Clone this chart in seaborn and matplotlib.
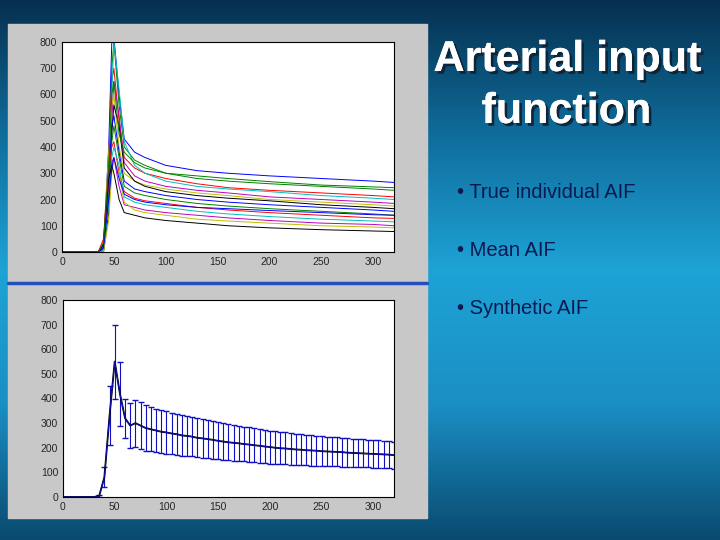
import numpy as np
import matplotlib
matplotlib.use("Agg")
import matplotlib.pyplot as plt
import matplotlib.patheffects as pe
import seaborn as sns
from matplotlib.colors import LinearSegmentedColormap

sns.set_style("white")
plt.rcParams['font.family'] = ['Liberation Sans', 'DejaVu Sans']

# individual AIF curves (sampled times)
t_ind = [0, 35, 40, 45, 48, 50, 55, 60, 70, 80, 100, 130, 160, 200, 250, 300, 320]
curves = [
    [0, 0, 20, 400, 800, 820, 600, 430, 380, 360, 330, 310, 300, 290, 280, 270, 265],
    [0, 0, 10, 300, 700, 800, 560, 400, 350, 330, 300, 280, 270, 260, 250, 240, 235],
    [0, 0, 30, 350, 650, 700, 500, 360, 320, 300, 280, 260, 245, 235, 225, 215, 210],
    [0, 0, 5, 250, 600, 800, 620, 420, 330, 300, 270, 250, 240, 230, 215, 205, 200],
    [0, 0, 15, 200, 500, 650, 520, 340, 290, 270, 250, 235, 225, 210, 200, 190, 185],
    [0, 0, 40, 380, 560, 600, 400, 300, 270, 255, 240, 225, 215, 200, 190, 180, 175],
    [0, 0, 0, 150, 450, 560, 480, 320, 270, 250, 230, 215, 205, 195, 180, 170, 165],
    [0, 0, 25, 300, 480, 520, 380, 270, 240, 230, 215, 200, 190, 180, 170, 160, 155],
    [0, 0, 10, 220, 420, 480, 360, 250, 225, 215, 200, 185, 175, 165, 155, 145, 140],
    [0, 0, 50, 320, 400, 420, 300, 230, 205, 195, 185, 170, 160, 150, 140, 130, 128],
    [0, 0, 5, 180, 360, 400, 330, 210, 190, 180, 170, 155, 145, 135, 125, 118, 115],
    [0, 0, 20, 260, 340, 360, 250, 180, 170, 160, 150, 140, 130, 120, 110, 105, 100],
    [0, 0, 0, 120, 300, 350, 300, 190, 160, 150, 140, 125, 118, 110, 100, 95, 92],
    [0, 0, 30, 280, 330, 300, 200, 150, 140, 130, 120, 110, 100, 92, 85, 80, 78],
    [0, 0, 15, 200, 320, 360, 280, 220, 200, 190, 180, 170, 165, 158, 150, 142, 140],
    [0, 0, 35, 330, 600, 650, 450, 380, 340, 320, 300, 290, 280, 268, 255, 248, 245],
]
colors = ['b', 'g', 'r', 'c', 'm', 'y', 'k']

# mean AIF and SD (t = 0..320 step 5)
t_mean = list(range(0, 325, 5))
mean_aif = [0, 0, 0, 0, 0, 0, 0, 5, 80, 330, 550, 420, 320, 290, 300, 290, 280, 275, 270, 265,
            262, 258, 255, 250, 248, 245, 240, 238, 235, 232, 228, 225, 222, 220, 218, 215,
            213, 210, 208, 205, 203, 200, 198, 197, 195, 193, 192, 190, 189, 188, 186, 185,
            184, 183, 182, 180, 179, 178, 177, 176, 175, 174, 173, 172, 170]
sd_aif = [0, 0, 0, 0, 0, 0, 0, 5, 40, 120, 150, 130, 80, 90, 95, 95, 92, 90, 88, 87,
          86, 85, 84, 82, 81, 80, 79, 78, 77, 76, 75, 74, 73, 72, 71, 70,
          70, 69, 68, 67, 67, 66, 65, 65, 64, 63, 63, 62, 62, 61, 61, 60,
          60, 59, 59, 58, 58, 57, 57, 56, 56, 56, 55, 55, 55]

fig = plt.figure(figsize=(7.2, 5.4), dpi=100)
bg = fig.add_axes([0, 0, 1, 1])
cmap = LinearSegmentedColormap.from_list("bg", ["#06304f", "#0f6d9c", "#1ea3d6", "#1a8fc4", "#0a4a70"])
bg.imshow(np.linspace(0, 1, 256).reshape(-1, 1), aspect='auto', cmap=cmap, extent=[0, 1, 0, 1])
bg.set_xlim(0, 1); bg.set_ylim(0, 1); bg.axis('off')
bg.add_patch(plt.Rectangle((8/720, 1-518/540), 419/720, 494/540, color='#c8c8c8', zorder=2))
bg.plot([8/720, 427/720], [1-283/540]*2, color='#2050c0', lw=2.5, zorder=3)

ax1 = fig.add_axes([62/720, 1-252/540, 332/720, 210/540])
for i, c in enumerate(curves):
    sns.lineplot(x=t_ind, y=c, ax=ax1, color=colors[i % 7], lw=0.7)
ax1.set_xlim(0, 320); ax1.set_ylim(0, 800)
ax1.set_xticks(range(0, 301, 50)); ax1.set_yticks(range(0, 801, 100))

ax2 = fig.add_axes([63/720, 1-497/540, 331/720, 197/540])
ax2.errorbar(t_mean, mean_aif, yerr=sd_aif, color='#1010c0', lw=0.7, capsize=2.5, elinewidth=0.8)
sns.lineplot(x=t_mean, y=mean_aif, ax=ax2, color='k', lw=1.3)
ax2.set_xlim(0, 320); ax2.set_ylim(0, 800)
ax2.set_xticks(range(0, 301, 50)); ax2.set_yticks(range(0, 801, 100))

for ax in (ax1, ax2):
    ax.set_facecolor('white')
    ax.tick_params(labelsize=7.5, direction='in', length=3)
    for s in ax.spines.values():
        s.set_color('black'); s.set_linewidth(0.8)

shadow = [pe.withSimplePatchShadow(offset=(2, -2), shadow_rgbFace='#102030', alpha=0.9), pe.Normal()]
fig.text(567/720, 1-60/540, "Arterial input", ha='center', va='center', fontsize=31,
         color='white', fontweight='bold', path_effects=shadow)
fig.text(566/720, 1-112/540, "function", ha='center', va='center', fontsize=31,
         color='white', fontweight='bold', path_effects=shadow)
for y, s in [(192, "• True individual AIF"), (250, "• Mean AIF"), (309, "• Synthetic AIF")]:
    fig.text(457/720, 1-y/540, s, ha='left', va='center', fontsize=14.5, color='#0a1a50')

fig.savefig("out.png", dpi=100)
